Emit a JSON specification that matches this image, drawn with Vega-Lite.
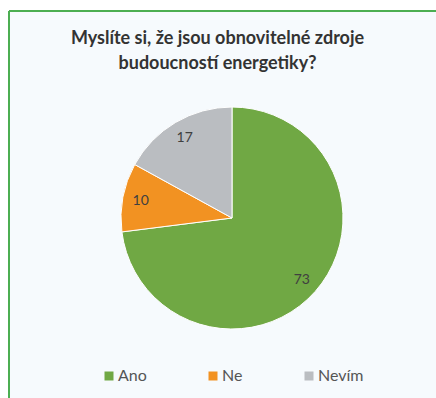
{
  "$schema": "https://vega.github.io/schema/vega-lite/v6.json",
  "width": 427,
  "height": 387,
  "autosize": {"type": "none"},
  "padding": {"left": 9, "top": 11, "right": 0, "bottom": 0},
  "background": "white",
  "view": {"fill": "#f6fafd", "stroke": "#4cae52", "strokeWidth": 2, "strokeDash": [427, 814, 387, 0]},
  "title": {
    "text": ["Myslíte si, že jsou obnovitelné zdroje", "budoucností energetiky?"],
    "font": "Lato",
    "fontSize": 18,
    "fontWeight": "bold",
    "color": "#333333",
    "lineHeight": 25,
    "anchor": "middle",
    "frame": "group",
    "dx": -5,
    "offset": -62
  },
  "data": {
    "values": [
      {"odpoved": "Ano", "pocet": 73, "poradi": 1},
      {"odpoved": "Ne", "pocet": 10, "poradi": 2},
      {"odpoved": "Nevím", "pocet": 17, "poradi": 3}
    ]
  },
  "encoding": {
    "theta": {"field": "pocet", "type": "quantitative", "stack": true},
    "order": {"field": "poradi", "type": "quantitative"}
  },
  "layer": [
    {
      "mark": {"type": "arc", "outerRadius": 111, "stroke": "white", "strokeWidth": 1, "xOffset": 9.5, "yOffset": 13.5},
      "encoding": {
        "color": {
          "field": "odpoved",
          "type": "nominal",
          "sort": ["Ano", "Ne", "Nevím"],
          "scale": {"domain": ["Ano", "Ne", "Nevím"], "range": ["#70a844", "#f29222", "#babdc1"]},
          "legend": {
            "title": null,
            "orient": "none",
            "legendX": 92,
            "legendY": 357,
            "direction": "horizontal",
            "columns": 3,
            "columnPadding": 58,
            "symbolType": "square",
            "symbolSize": 81,
            "symbolStrokeWidth": 0,
            "labelFont": "Lato",
            "labelFontSize": 16,
            "labelColor": "#555555",
            "labelOffset": 1
          }
        }
      }
    },
    {
      "mark": {"type": "text", "radius": 93, "font": "Lato", "fontSize": 14, "color": "#404040", "xOffset": 9.5, "yOffset": 13.5},
      "encoding": {"text": {"field": "pocet", "type": "quantitative"}}
    }
  ]
}
